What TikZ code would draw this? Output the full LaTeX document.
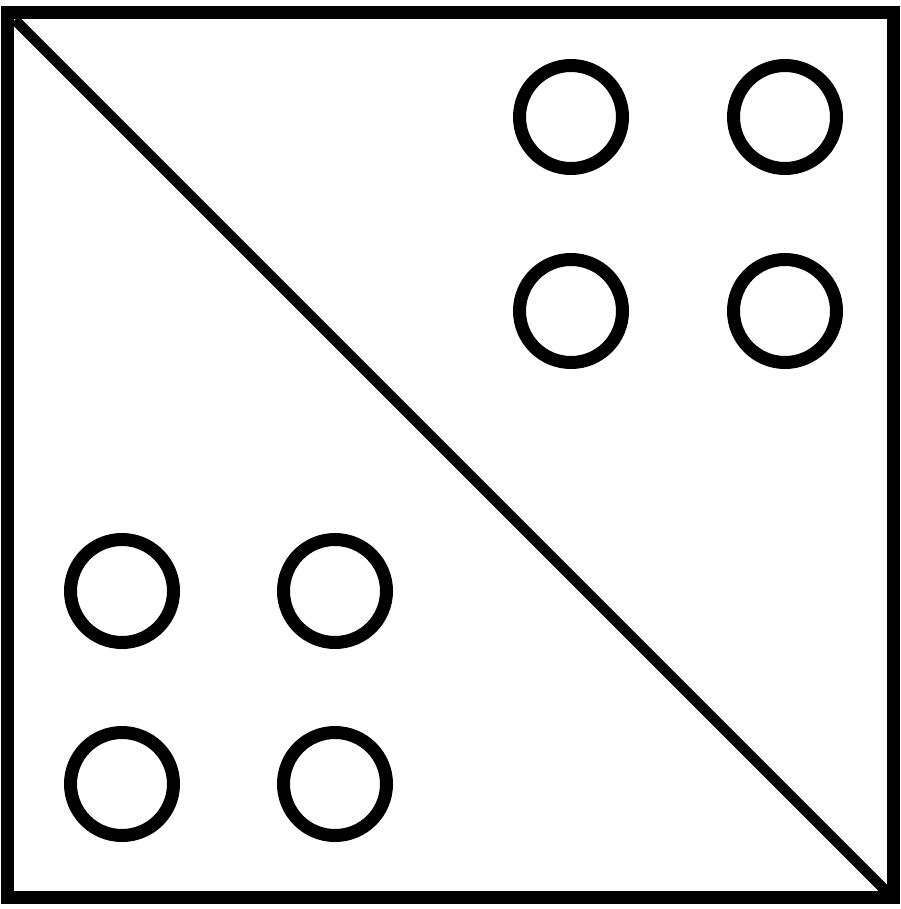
\documentclass[tikz,border=0pt]{standalone}
\usepackage{tikz}
\usetikzlibrary{positioning}

\begin{document}
\begin{tikzpicture}[x=1pt, y=-1pt,
        hole/.style={circle, draw=black, line width=13pt, minimum size=103pt, inner sep=0pt},
        frame/.style={draw=black, line width=13pt}]
            \useasboundingbox (0, 0) rectangle (900, 909);

            \coordinate (tl) at (7.5, 13);
            \coordinate (br) at (893, 897);
            \draw[frame] (tl) rectangle (br);
            \draw[black, line width=10.5pt] (15, 20) coordinate (d1) -- (887, 892) coordinate (d2);

            \node[hole] (1) at (571, 117) {};
            \node[hole] (2) at (785, 117) {};
            \node[hole] (3) at (571, 311) {};
            \node[hole] (4) at (785, 311) {};
            \node[hole] (5) at (122, 591) {};
            \node[hole] (6) at (335, 591) {};
            \node[hole] (7) at (122, 784) {};
            \node[hole] (8) at (335, 784) {};
        \end{tikzpicture}
\end{document}
